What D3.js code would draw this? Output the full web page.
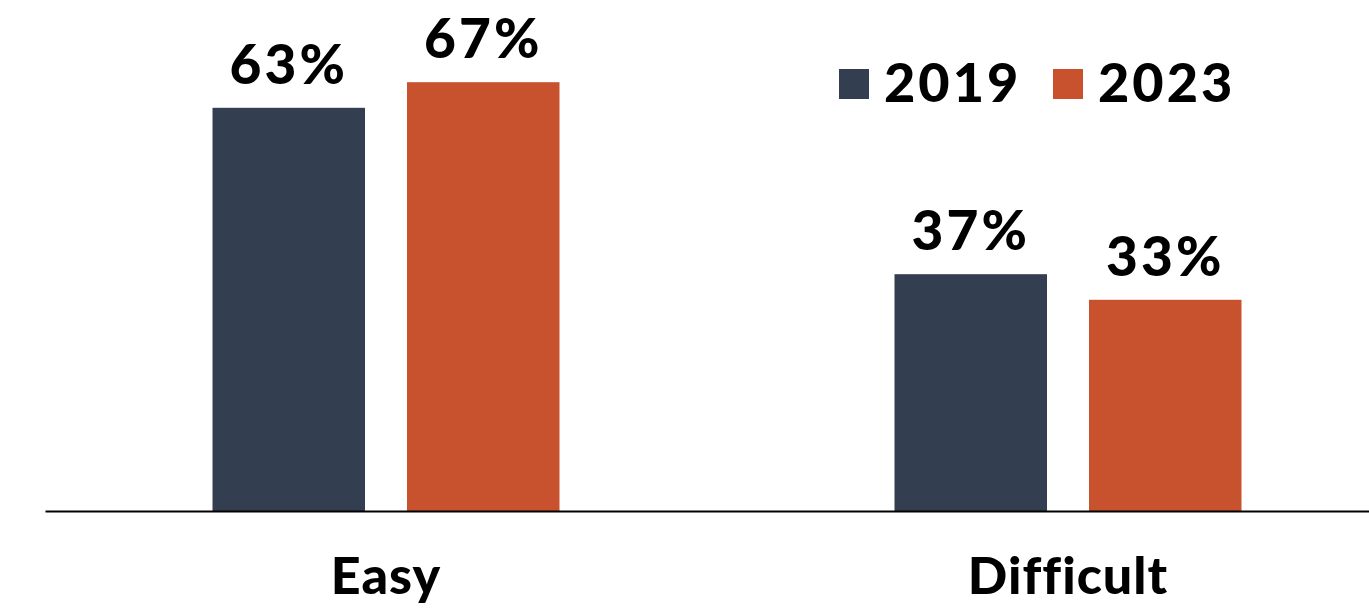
<!DOCTYPE html>
<html>
<head>
<meta charset="utf-8">
<script src="https://cdn.jsdelivr.net/npm/d3@7"></script>
<style>
  body { margin: 0; background: #fff; }
  svg { display: block; font-family: Lato, "Open Sans", sans-serif; }
</style>
</head>
<body>
<svg></svg>
<script>
const categories = ["Easy", "Difficult"];
const seriesNames = ["2019", "2023"];
const values2019 = [63, 37];
const values2023 = [67, 33];

const colors = { "2019": "#343e51", "2023": "#c8522e" };

const width = 1369;
const height = 609;
const baseY = 511;

const data = categories.map((c, i) => ({
    cat: c,
    vals: [
        { key: "2019", value: values2019[i] },
        { key: "2023", value: values2023[i] }
    ]
}));

const svg = d3.select("svg")
    .attr("width", width)
    .attr("height", height);

const x0 = d3.scaleBand()
    .domain(categories)
    .range([45, 1409])
    .padding(0);

const x1 = d3.scaleBand()
    .domain(seriesNames)
    .range([167.5, 514.5])
    .paddingInner(0.216);

const y = d3.scaleLinear()
    .domain([0, 70])
    .range([baseY, baseY - 448]);

const groups = svg.append("g")
    .selectAll("g")
    .data(data)
    .enter().append("g")
    .attr("transform", d => `translate(${x0(d.cat)},0)`);

groups.selectAll("rect")
    .data(d => d.vals)
    .enter().append("rect")
    .attr("x", d => x1(d.key))
    .attr("y", d => y(d.value))
    .attr("width", x1.bandwidth())
    .attr("height", d => baseY - y(d.value))
    .attr("fill", d => colors[d.key]);

groups.selectAll("text")
    .data(d => d.vals)
    .enter().append("text")
    .attr("x", d => x1(d.key) + x1.bandwidth() / 2)
    .attr("y", d => y(d.value) - 24)
    .attr("text-anchor", "middle")
    .attr("font-size", 55)
    .attr("font-weight", 900)
    .attr("letter-spacing", 3)
    .attr("fill", "#000")
    .text(d => d.value + "%");

// x axis
const axis = svg.append("g")
    .attr("transform", `translate(0,${baseY})`)
    .call(d3.axisBottom(x0).tickSize(0).tickPadding(46));
axis.select(".domain")
    .attr("stroke", "#000")
    .attr("stroke-width", 2);
axis.selectAll("text")
    .attr("font-size", 52)
    .attr("font-weight", 900)
    .attr("letter-spacing", 1)
    .attr("font-family", "Lato, sans-serif")
    .attr("fill", "#000");

// legend
const legendX = [839, 1053];
const legend = svg.append("g")
    .selectAll("g")
    .data(seriesNames)
    .enter().append("g")
    .attr("transform", (d, i) => `translate(${legendX[i]},69)`);

legend.append("rect")
    .attr("width", 30)
    .attr("height", 30)
    .attr("fill", d => colors[d]);

legend.append("text")
    .attr("x", 45)
    .attr("y", 33)
    .attr("font-size", 54)
    .attr("font-weight", 900)
    .attr("letter-spacing", 3)
    .attr("fill", "#000")
    .text(d => d);
</script>
</body>
</html>
